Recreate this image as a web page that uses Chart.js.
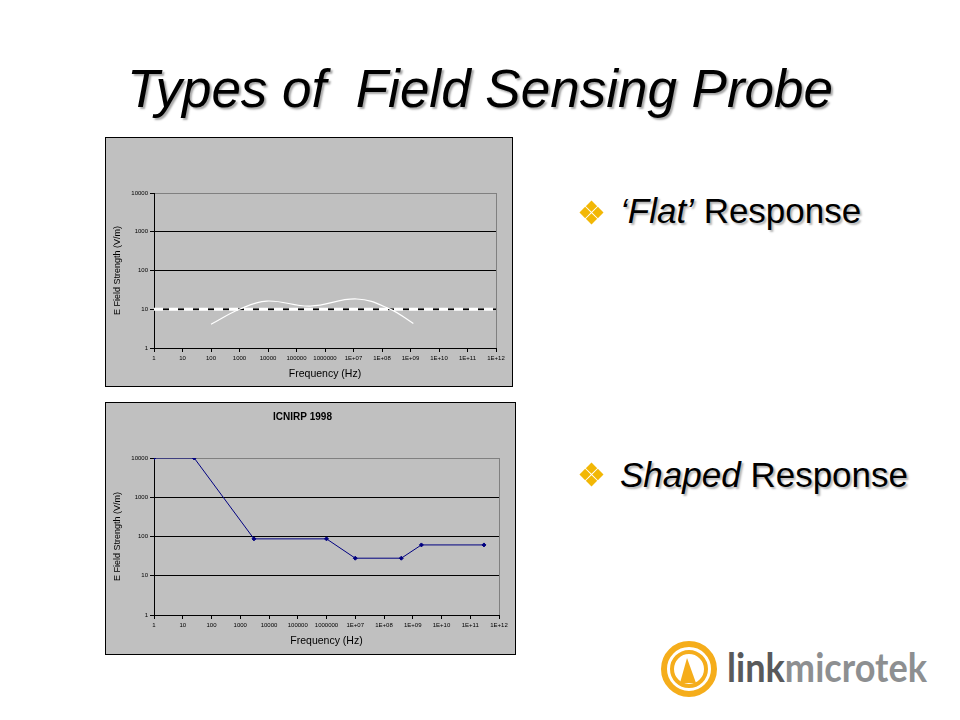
<!DOCTYPE html>
<html>
<head>
<meta charset="utf-8">
<script src="https://cdn.jsdelivr.net/npm/chart.js@4.4.0/dist/chart.umd.min.js"></script>
<style>
  body { margin: 0; width: 960px; height: 720px; background: #fff; position: relative; overflow: hidden;
         font-family: "Liberation Sans", Arial, sans-serif; }
  .title { position: absolute; left: 0; width: 960px; top: 62px; line-height: 53px; text-align: center;
           font-size: 53px; font-style: italic; color: #000; white-space: pre;
           text-shadow: 2px 2px 2px rgba(0,0,0,0.35); }
  .panel { position: absolute; background: #c0c0c0; border: 1px solid #000; }
  #flatPanel { left: 105px; top: 137px; width: 406px; height: 248px; }
  #shapedPanel { left: 105px; top: 402px; width: 409px; height: 251px; }
  .bullet { position: absolute; left: 620px; font-size: 35px; line-height: 35px; color: #000; white-space: pre;
            text-shadow: 2px 2px 2px rgba(0,0,0,0.3); }
  .dia { position: absolute; width: 17px; height: 17px; transform: rotate(45deg); }
  .dia span { position: absolute; width: 8px; height: 8px; background: #f2b705; }
  #logo { position: absolute; left: 640px; top: 620px; }
</style>
</head>
<body>
<div class="title">Types of  Field Sensing Probe</div>

<div class="panel" id="flatPanel"><canvas id="flatChart" width="406" height="248"></canvas></div>
<div class="panel" id="shapedPanel"><canvas id="shapedChart" width="409" height="251"></canvas></div>

<div class="dia" style="left:583px; top:204px;"><span style="left:0;top:0"></span><span style="left:9px;top:0"></span><span style="left:0;top:9px"></span><span style="left:9px;top:9px"></span></div>
<div class="bullet" style="top:193px;"><i>‘Flat’</i> Response</div>

<div class="dia" style="left:583px; top:466px;"><span style="left:0;top:0"></span><span style="left:9px;top:0"></span><span style="left:0;top:9px"></span><span style="left:9px;top:9px"></span></div>
<div class="bullet" style="top:457px;"><i>Shaped</i> Response</div>

<svg id="logo" width="310" height="90" viewBox="0 0 310 90">
  <circle cx="49" cy="49" r="25" fill="none" stroke="#f5ad1b" stroke-width="6"/>
  <circle cx="49" cy="49" r="17" fill="none" stroke="#f5ad1b" stroke-width="4"/>
  <polygon points="47,38 40,63 56,63" fill="#f5ad1b"/>
  <text x="87" y="62" font-family="Lato, 'DejaVu Sans', sans-serif" font-weight="bold" font-size="40"
        textLength="200" lengthAdjust="spacingAndGlyphs"><tspan fill="#58595b">link</tspan><tspan fill="#8d8f91">microtek</tspan></text>
</svg>

<script>
// frequency axis (Hz) and field axis (V/m)
const freqTicks = [1, 10, 100, 1000, 10000, 100000, 1000000, 1e7, 1e8, 1e9, 1e10, 1e11, 1e12];
const freqLabels = ['1', '10', '100', '1000', '10000', '100000', '1000000', '1E+07', '1E+08', '1E+09', '1E+10', '1E+11', '1E+12'];
const fieldTicks = [1, 10, 100, 1000, 10000];
const fieldLabels = ['1', '10', '100', '1000', '10000'];

// 'flat' probe: ideal level and measured response
const flatFreq = [1, 1e12];
const flatLevel = [10, 10];
const probeFreq = [100, 1000, 9000, 300000, 13000000, 190000000, 1260000000];
const probeLevel = [4.1, 10, 16.3, 12.1, 18.4, 10.1, 4.3];

// ICNIRP 1998 reference levels
const icnirpFreq = [1, 25, 3000, 1000000, 10000000, 400000000, 2000000000, 300000000000];
const icnirpLevel = [10000, 10000, 87, 87, 28, 28, 61, 61];

function points(xs, ys) {
  return xs.map((x, i) => ({ x: x, y: ys[i] }));
}

const plotBorder = {
  id: 'plotBorder',
  beforeDraw(chart) {
    const a = chart.chartArea;
    const ctx = chart.ctx;
    ctx.save();
    ctx.strokeStyle = '#808080';
    ctx.lineWidth = 1;
    ctx.strokeRect(a.left + 0.5, a.top + 0.5, a.right - a.left, a.bottom - a.top);
    ctx.restore();
  }
};

function makeScales(xHeight, xTitlePad) {
  const tickFont = { family: 'Liberation Sans, Arial, sans-serif', size: 6 };
  return {
    x: {
      type: 'logarithmic', min: 1, max: 1e12,
      afterBuildTicks: function (s) { s.ticks = freqTicks.map(v => ({ value: v })); },
      afterFit: function (s) { s.height = xHeight; },
      ticks: {
        callback: function (v, i) { return freqLabels[i]; },
        font: tickFont, color: '#000', maxRotation: 0, autoSkip: false, padding: 3
      },
      grid: { drawOnChartArea: false, drawTicks: true, tickLength: 4, color: '#000' },
      border: { color: '#000' },
      title: { display: true, text: 'Frequency (Hz)', color: '#000',
               font: { family: 'Liberation Sans, Arial, sans-serif', size: 10.5 },
               padding: { top: 0, bottom: xTitlePad } }
    },
    y: {
      type: 'logarithmic', min: 1, max: 10000,
      afterBuildTicks: function (s) { s.ticks = fieldTicks.map(v => ({ value: v })); },
      afterFit: function (s) { s.width = 48; },
      ticks: {
        callback: function (v, i) { return fieldLabels[i]; },
        font: tickFont, color: '#000', padding: 2
      },
      grid: {
        color: function (c) { return c.tick && c.tick.value === 10000 ? '#808080' : '#000'; },
        tickColor: '#000', tickLength: 4, lineWidth: 1
      },
      border: { color: '#000' },
      title: { display: true, text: 'E Field Strength (V/m)', color: '#000',
               font: { family: 'Liberation Sans, Arial, sans-serif', size: 9 },
               padding: { top: 6.5, bottom: 0 } }
    }
  };
}

new Chart(document.getElementById('flatChart'), {
  type: 'scatter',
  data: {
    datasets: [
      { data: points(probeFreq, probeLevel), showLine: true, borderColor: '#ffffff', borderWidth: 1.2,
        pointRadius: 0, tension: 0.4 },
      { data: points(flatFreq, flatLevel), showLine: true, borderColor: '#ffffff', borderWidth: 3,
        borderDash: [9, 6], pointRadius: 0 },
      { data: points(flatFreq, flatLevel), showLine: true, borderColor: '#000000', borderWidth: 1.5,
        pointRadius: 0 }
    ]
  },
  options: {
    responsive: false, animation: false,
    layout: { padding: { top: 55, right: 16, left: 0, bottom: 0 } },
    plugins: { legend: { display: false }, tooltip: { enabled: false } },
    scales: makeScales(38, 5.7)
  },
  plugins: [plotBorder]
});

new Chart(document.getElementById('shapedChart'), {
  type: 'scatter',
  data: {
    datasets: [
      { data: points(icnirpFreq, icnirpLevel), showLine: true, borderColor: '#000080', borderWidth: 1,
        pointStyle: 'rectRot', pointRadius: 2, pointBackgroundColor: '#000080', pointBorderColor: '#000080' }
    ]
  },
  options: {
    responsive: false, animation: false,
    layout: { padding: { top: 0, right: 16, left: 0, bottom: 0 } },
    plugins: {
      legend: { display: false }, tooltip: { enabled: false },
      title: { display: true, text: 'ICNIRP 1998', color: '#000',
               font: { family: 'Liberation Sans, Arial, sans-serif', size: 10, weight: 'bold' },
               padding: { top: 8, bottom: 35 } }
    },
    scales: makeScales(39, 6.7)
  },
  plugins: [plotBorder]
});
</script>
</body>
</html>
